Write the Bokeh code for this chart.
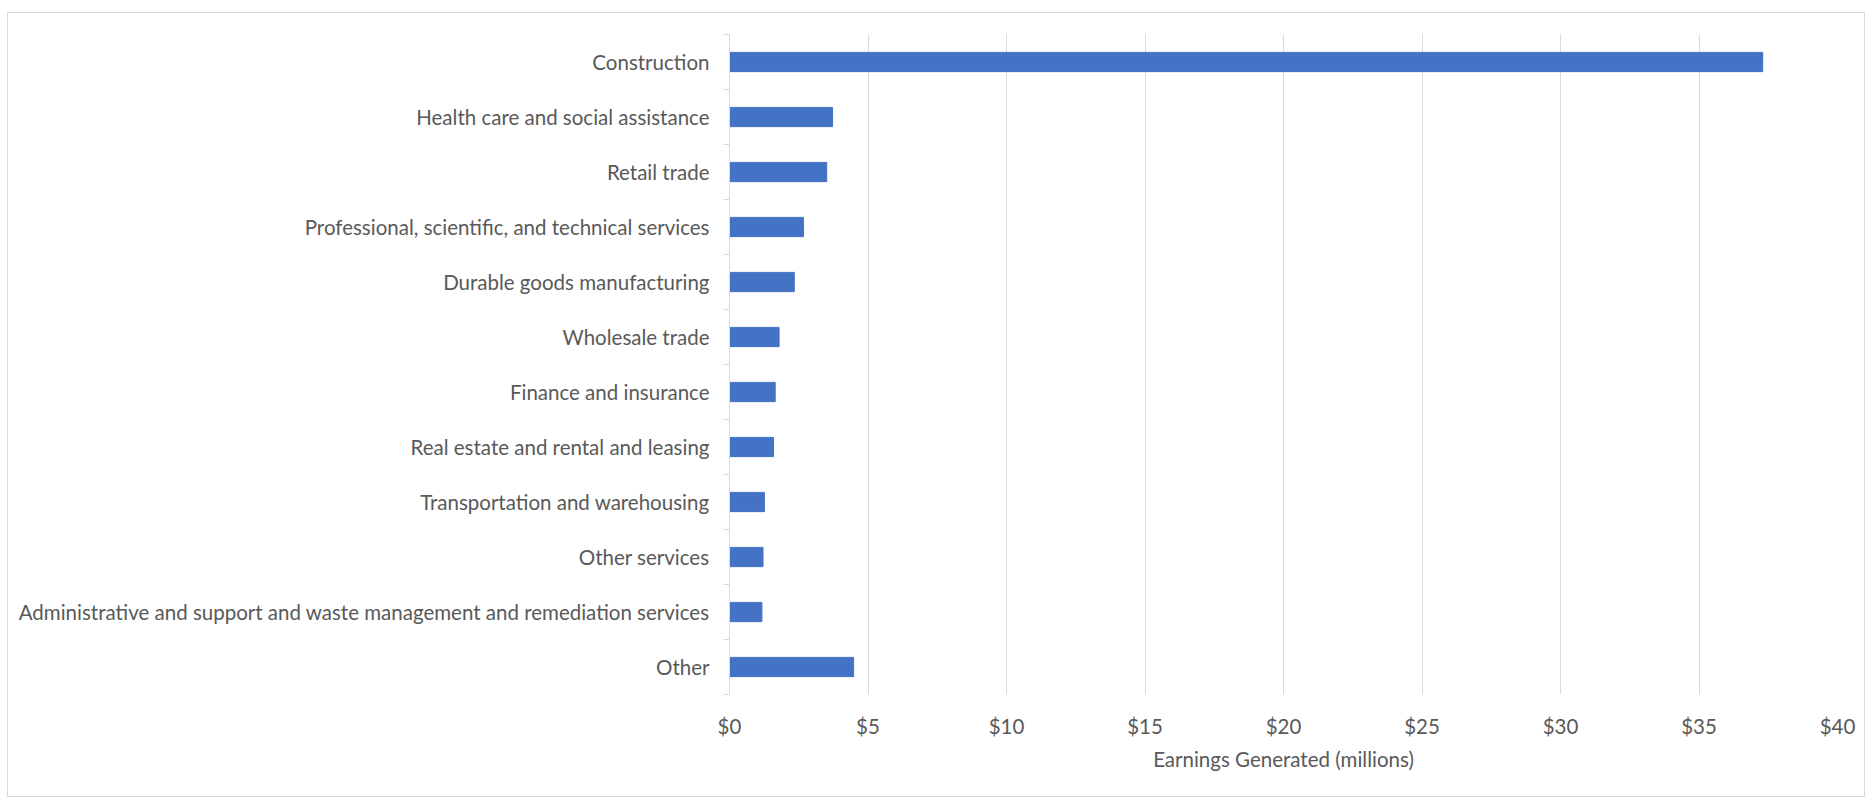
from bokeh.plotting import figure
from bokeh.models import Range1d, FixedTicker, ColumnDataSource
from bokeh.embed import file_html
from bokeh.resources import INLINE

# ---- data ----
categories = [
    "Construction",
    "Health care and social assistance",
    "Retail trade",
    "Professional, scientific, and technical services",
    "Durable goods manufacturing",
    "Wholesale trade",
    "Finance and insurance",
    "Real estate and rental and leasing",
    "Transportation and warehousing",
    "Other services",
    "Administrative and support and waste management and remediation services",
    "Other",
]
earnings_millions = [37.3, 3.72, 3.51, 2.67, 2.34, 1.79, 1.65, 1.59, 1.26, 1.21, 1.17, 4.48]
x_ticks = [0, 5, 10, 15, 20, 25, 30, 35, 40]
x_tick_labels = ["$0", "$5", "$10", "$15", "$20", "$25", "$30", "$35", "$40"]
x_title = "Earnings Generated (millions)"

FONT = "Lato"
FS = "20.5px"
TXT = "#595959"
GRID = "#D9D9D9"
BAR = "#4472C4"

n = len(categories)
centers = [n - i - 0.5 for i in range(n)]
src = ColumnDataSource(dict(y=centers, v=earnings_millions, name=categories))

p = figure(
    width=1858, height=785,
    x_range=Range1d(0, 40), y_range=Range1d(0, n),
    output_backend="svg", toolbar_location=None,
    min_border_left=721, min_border_right=29, min_border_top=21, min_border_bottom=104,
)
p.margin = (12, 0, 0, 7)
p.styles = {"border": "1px solid #D9D9D9"}
p.outline_line_color = None
p.background_fill_color = "white"
p.border_fill_color = "white"

p.hbar(y="y", right="v", left=0, height=0.35, source=src, fill_color=BAR, line_color=BAR)

# x axis
p.xaxis.ticker = FixedTicker(ticks=x_ticks)
p.xaxis.major_label_overrides = {t: l for t, l in zip(x_ticks, x_tick_labels)}
p.xaxis.axis_line_color = None
p.xaxis.major_tick_line_color = None
p.xaxis.minor_tick_line_color = None
p.xaxis.major_label_text_font = FONT
p.xaxis.major_label_text_font_size = FS
p.xaxis.major_label_text_color = TXT
p.xaxis.major_label_standoff = 13
p.xaxis.axis_label = x_title
p.xaxis.axis_label_text_font = FONT
p.xaxis.axis_label_text_font_size = FS
p.xaxis.axis_label_text_font_style = "normal"
p.xaxis.axis_label_text_color = TXT
p.xaxis.axis_label_standoff = 6

# y axis (category labels at band centres, ticks at band boundaries)
p.yaxis.ticker = FixedTicker(ticks=centers, minor_ticks=list(range(n + 1)))
p.yaxis.major_label_overrides = {c: name for c, name in zip(centers, categories)}
p.yaxis.axis_line_color = GRID
p.yaxis.major_tick_line_color = None
p.yaxis.major_tick_out = 0
p.yaxis.major_tick_in = 0
p.yaxis.minor_tick_line_color = GRID
p.yaxis.minor_tick_out = 6
p.yaxis.minor_tick_in = 0
p.yaxis.major_label_text_font = FONT
p.yaxis.major_label_text_font_size = FS
p.yaxis.major_label_text_color = TXT
p.yaxis.major_label_standoff = 14

# grid
p.xgrid.ticker = FixedTicker(ticks=x_ticks)
p.xgrid.grid_line_color = GRID
p.ygrid.grid_line_color = None

open("out.html", "w").write(file_html(p, INLINE))
